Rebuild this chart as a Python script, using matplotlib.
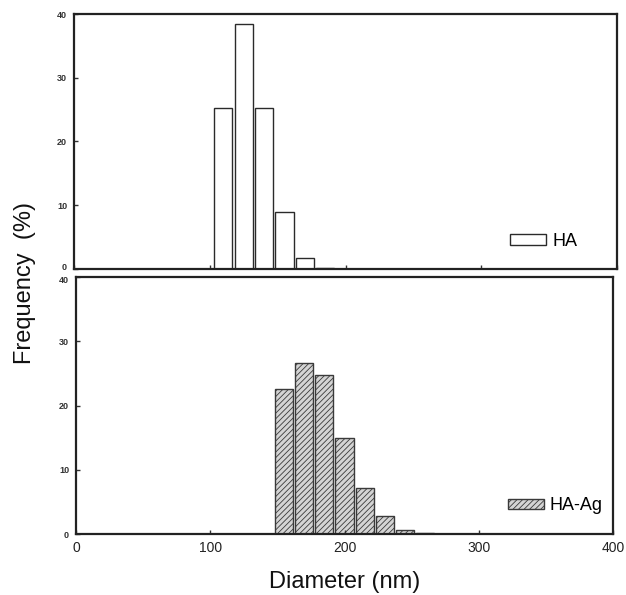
import matplotlib
matplotlib.use("Agg")
import matplotlib.pyplot as plt
from matplotlib.transforms import ScaledTranslation

plt.rcParams['font.family'] = ['Liberation Sans', 'DejaVu Sans']
plt.rcParams['hatch.linewidth'] = 0.6

# Data
ha_centers = [110, 125, 140, 155, 170, 185]
ha_freq = [25.2, 38.4, 25.2, 8.9, 1.8, 0.2]
haag_centers = [155, 170, 185, 200, 215, 230, 245, 260]
haag_freq = [22.5, 26.6, 24.7, 15.0, 7.1, 2.8, 0.6, 0.15]
bar_width = 13.5
xticks = [0, 100, 200, 300, 400]
yticks = [0, 10, 20, 30, 40]

W, H = 626, 595
fig = plt.figure(figsize=(W / 100, H / 100), dpi=100)

def px_axes(l, r, t, b):
    return fig.add_axes([l / W, (H - b) / H, (r - l) / W, (b - t) / H])

ax1 = px_axes(74, 617, 14, 269)
ax2 = px_axes(76, 613, 277, 534)

edge = '#2a2a2a'
ax1.bar(ha_centers, ha_freq, width=bar_width, facecolor='white',
        edgecolor=edge, linewidth=1.0, label='HA')
ax2.bar(haag_centers, haag_freq, width=bar_width, facecolor='#d4d4d4',
        edgecolor='#3a3a3a', linewidth=1.0, hatch='//////', label='HA-Ag')

for ax in (ax1, ax2):
    ax.set_xlim(0, 400)
    ax.set_ylim(0, 40)
    ax.set_xticks(xticks)
    ax.set_yticks(yticks)
    for s in ax.spines.values():
        s.set_linewidth(1.6)
        s.set_color('#222222')
    ax.tick_params(direction='in', length=3, width=1, color='#333333')
    ax.tick_params(axis='y', labelsize=6.5, pad=5, labelcolor='#333333')
    for lab in ax.get_yticklabels():
        lab.set_fontweight('bold')

# nudge the two crowded labels at the panel junction apart
fig.canvas.draw()
lab_top0 = ax1.get_yticklabels()[0]
lab_top0.set_transform(lab_top0.get_transform() + ScaledTranslation(0, 2 / 72, fig.dpi_scale_trans))
lab_bot40 = ax2.get_yticklabels()[-1]
lab_bot40.set_transform(lab_bot40.get_transform() + ScaledTranslation(0, -2 / 72, fig.dpi_scale_trans))

ax1.tick_params(axis='x', labelbottom=False)
ax2.tick_params(axis='x', labelsize=10, pad=5, labelcolor='#222222')

leg_kw = dict(frameon=False, fontsize=13, handlelength=2.0, handleheight=0.5,
              handletextpad=0.33, borderpad=0, borderaxespad=0, loc='center left')
ax1.legend(bbox_to_anchor=(0.803, 0.108), **leg_kw)
ax2.legend(bbox_to_anchor=(0.804, 0.109), **leg_kw)

fig.text(25 / W, (H - 283) / H, 'Frequency  (%)', rotation=90, fontsize=17,
         ha='center', va='center', color='#111111')
fig.text(345 / W, (H - 588) / H, 'Diameter (nm)', fontsize=17,
         ha='center', va='baseline', color='#111111')

fig.savefig('out.png', dpi=100)
